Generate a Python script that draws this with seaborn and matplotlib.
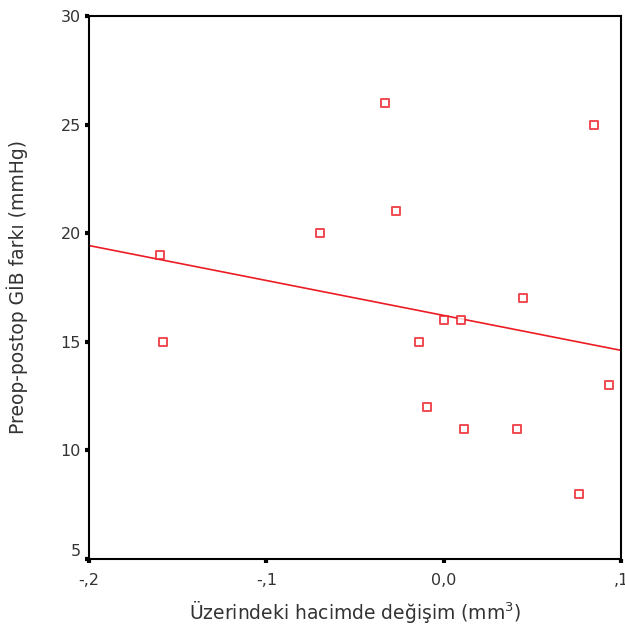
import matplotlib
matplotlib.use("Agg")
import matplotlib.pyplot as plt
import seaborn as sns
import pandas as pd

# Data
volume_change = [-0.160, -0.158, -0.070, -0.033, -0.027, -0.014, -0.0096, 0.000,
                 0.0096, 0.0113, 0.0411, 0.0445, 0.0761, 0.0845, 0.0935]
iop_diff = [19, 15, 20, 26, 21, 15, 12, 16, 16, 11, 11, 17, 8, 25, 13]

x_ticks = [-0.2, -0.1, 0.0, 0.1]
x_tick_labels = ["-,2", "-,1", "0,0", ",1"]
y_ticks = [5, 10, 15, 20, 25, 30]
y_tick_labels = ["5", "10", "15", "20", "25", "30"]

x_label = "Üzerindeki hacimde değişim (mm$^3$)"
y_label = "Preop-postop GİB farkı (mmHg)"

df = pd.DataFrame({"x": volume_change, "y": iop_diff})

sns.set_style("white")
plt.rcParams["font.family"] = ["DejaVu Sans"]
plt.rcParams["mathtext.default"] = "regular"

red = "#ec1c24"
text_col = "#333333"

fig = plt.figure(figsize=(6.25, 6.28), dpi=100)
ax = fig.add_axes([89 / 625, 1 - 559 / 628, (621 - 89) / 625, (559 - 16) / 628])
ax.set_xlim(-0.2, 0.1)
ax.set_ylim(5, 30)

sns.regplot(data=df, x="x", y="y", ax=ax, ci=None, truncate=False,
            marker="s",
            scatter_kws=dict(s=26, facecolors="white", edgecolors=red,
                             linewidths=1.4, zorder=3),
            line_kws=dict(color=red, lw=1.2, zorder=2))

ax.set_xlim(-0.2, 0.1)
ax.set_ylim(5, 30)

ax.set_xticks(x_ticks)
ax.set_xticklabels(x_tick_labels)
ax.set_yticks(y_ticks)
ax.set_yticklabels(y_tick_labels)
ax.get_yticklabels()[0].set_verticalalignment("bottom")

ax.tick_params(axis="both", which="major", direction="out", length=3,
               width=3, color="black", labelsize=11.5, labelcolor=text_col,
               pad=3, bottom=True, left=True, top=False, right=False)
ax.tick_params(axis="x", pad=7)

for s in ax.spines.values():
    s.set_visible(True)
    s.set_color("black")
    s.set_linewidth(1.5)

ax.set_xlabel(x_label, fontsize=13.5, color=text_col, labelpad=8)
ax.set_ylabel(y_label, fontsize=13.5, color=text_col, labelpad=23)

fig.savefig("out.png", dpi=100)
